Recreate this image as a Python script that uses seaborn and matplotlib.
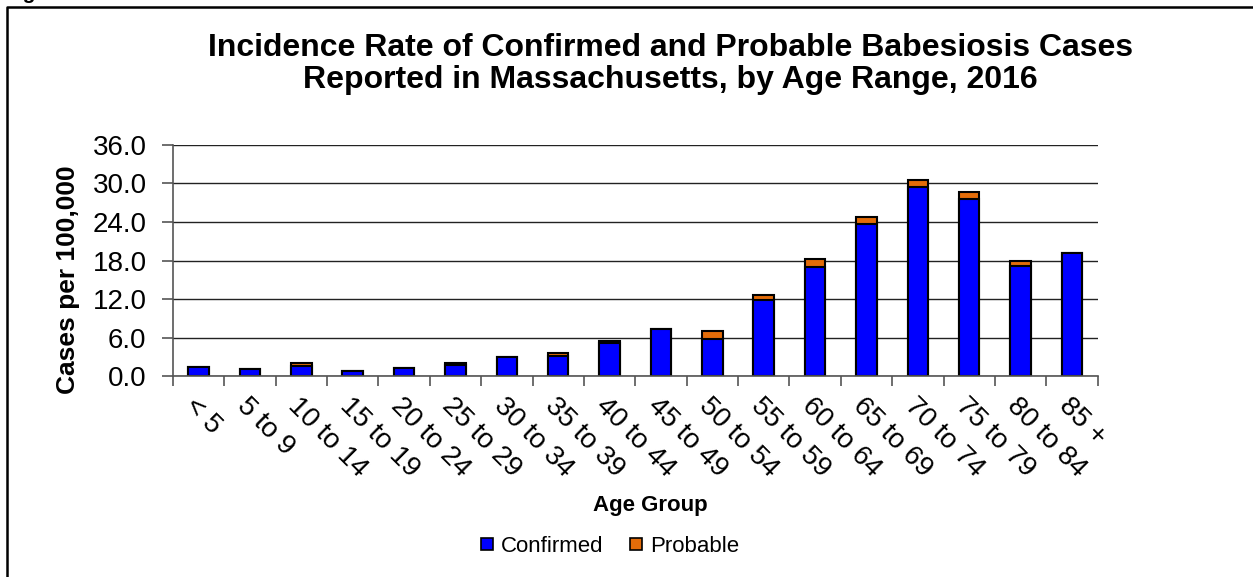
import matplotlib
matplotlib.use('Agg')
import matplotlib.pyplot as plt
import seaborn as sns
import pandas as pd
from matplotlib.lines import Line2D
from matplotlib.ticker import FixedLocator

# Dados
faixas = ['< 5', '5 to 9', '10 to 14', '15 to 19', '20 to 24', '25 to 29',
          '30 to 34', '35 to 39', '40 to 44', '45 to 49', '50 to 54', '55 to 59',
          '60 to 64', '65 to 69', '70 to 74', '75 to 79', '80 to 84', '85 +']
confirmados = [1.4, 1.1, 1.6, 0.8, 1.25, 1.8, 3.0, 3.1, 5.1, 7.4, 5.8, 11.8,
               17.0, 23.7, 29.5, 27.5, 17.2, 19.1]
provaveis = [0.0, 0.0, 0.5, 0.0, 0.0, 0.3, 0.0, 0.5, 0.3, 0.0, 1.2, 0.8,
             1.2, 1.1, 1.0, 1.2, 0.8, 0.0]
ticks_y = [0, 6, 12, 18, 24, 30, 36]

AZUL = '#0000FF'
LARANJA = '#E36C09'

dados = pd.DataFrame({'faixa': faixas, 'confirmados': confirmados, 'provaveis': provaveis})
dados['total'] = dados['confirmados'] + dados['provaveis']

sns.set_style('white')
plt.rcParams['font.family'] = ['Liberation Sans', 'DejaVu Sans']
plt.rcParams['text.color'] = 'black'
plt.rcParams['axes.labelcolor'] = 'black'
plt.rcParams['xtick.color'] = 'black'
plt.rcParams['ytick.color'] = 'black'

fig = plt.figure(figsize=(12.53, 5.77), dpi=100)
ax = fig.add_axes([0.138, 0.348, 0.738, 0.401])

# barras empilhadas: total (provável) atrás, confirmados na frente
sns.barplot(data=dados, x='faixa', y='total', color=LARANJA, width=0.4,
            edgecolor='black', linewidth=1.5, saturation=1, ax=ax)
sns.barplot(data=dados, x='faixa', y='confirmados', color=AZUL, width=0.4,
            edgecolor='black', linewidth=1.5, saturation=1, ax=ax)

ax.set_xlim(-0.5, len(faixas) - 0.5)
ax.set_yticks(ticks_y)
ax.set_yticklabels([f'{v:.1f}' for v in ticks_y], fontsize=20)
ax.set_ylim(0, 36)
ax.grid(axis='y', color='#222222', linewidth=1)
ax.set_axisbelow(True)

for lado in ['top', 'right']:
    ax.spines[lado].set_visible(False)
for lado in ['left', 'bottom']:
    ax.spines[lado].set_color('#555555')
    ax.spines[lado].set_linewidth(1.2)

ax.tick_params(axis='y', left=True, length=8, width=1.2, color='#555555', pad=11)
ax.xaxis.set_minor_locator(FixedLocator([i - 0.5 for i in range(len(faixas) + 1)]))
ax.tick_params(axis='x', which='major', length=0, pad=12)
ax.tick_params(axis='x', which='minor', bottom=True, length=7, width=1.2, color='#555555')
ax.set_xticks(range(len(faixas)))
ax.set_xticklabels(faixas, rotation=-45, ha='left', va='top',
                   rotation_mode='anchor', fontsize=20)

ax.set_xlabel('Age Group', fontsize=16, fontweight='bold')
ax.xaxis.set_label_coords(0.516, -0.515)
ax.set_ylabel('Cases per 100,000', fontsize=19, fontweight='bold')
ax.yaxis.set_label_coords(-0.10, 0.416)

fig.suptitle('Incidence Rate of Confirmed and Probable Babesiosis Cases\n'
             'Reported in Massachusetts, by Age Range, 2016',
             x=0.535, y=0.942, fontsize=23, fontweight='bold', linespacing=1.05)

handles = [Line2D([], [], marker='s', linestyle='', markersize=9,
                  markerfacecolor=c, markeredgecolor='black', markeredgewidth=1.2)
           for c in [AZUL, LARANJA]]
fig.legend(handles, ['Confirmed', 'Probable'], loc='center', ncol=2,
           bbox_to_anchor=(0.484, 0.053), frameon=False, fontsize=16,
           handletextpad=0.0, columnspacing=0.9, handlelength=1.2)

# moldura da figura e o texto cortado no topo
fig.add_artist(Line2D([7 / 1253, 7 / 1253, 1.0], [0.0, 1 - 7 / 577, 1 - 7 / 577],
                      transform=fig.transFigure, color='black', linewidth=1.8))
fig.text(0.003, 1.012, 'Figure 2.', fontsize=15, fontweight='bold', va='center')

fig.savefig('out.png', dpi=100)
